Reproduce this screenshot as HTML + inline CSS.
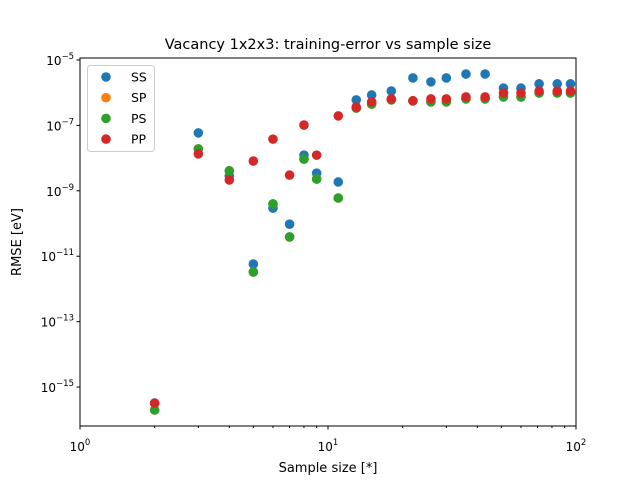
<!DOCTYPE html>
<html><head><meta charset="utf-8"><style>
body{margin:0;background:#fff;font-family:"Liberation Sans","DejaVu Sans",sans-serif;}
</style></head><body>
<svg id="chart" width="640" height="480" xmlns="http://www.w3.org/2000/svg" font-family="DejaVu Sans, Liberation Sans, sans-serif">
<rect width="640" height="480" fill="#fff"/>
<text x="328" y="49" font-size="14.5" text-anchor="middle">Vacancy 1x2x3: training-error vs sample size</text>
<g id="ticks"></g>
<g id="marks"></g>
<rect x="80" y="58" width="496" height="368" fill="none" stroke="#000" stroke-width="1"/>
<text x="328" y="472" font-size="13" text-anchor="middle">Sample size [*]</text>
<text transform="translate(21,242) rotate(-90)" font-size="13" text-anchor="middle">RMSE [eV]</text>
<g>
<rect x="87.5" y="65.5" width="67" height="86" rx="3" fill="#fff" fill-opacity="0.8" stroke="#ccc"/>
<g id="legend-items"></g>
</g>
</svg>
<script>
const sampleSizes=[2,3,4,5,6,7,8,9,11,13,15,18,22,26,30,36,43,51,60,71,84,95];
const ssExp=[-15.49,-7.23,-8.55,-11.24,-9.53,-10.02,-7.91,-8.46,-8.73,-6.22,-6.07,-5.95,-5.55,-5.67,-5.55,-5.43,-5.43,-5.86,-5.86,-5.73,-5.73,-5.73];
const psExp=[-15.70,-7.72,-8.39,-11.48,-9.40,-10.41,-8.03,-8.64,-9.22,-6.47,-6.35,-6.22,-6.25,-6.28,-6.28,-6.19,-6.19,-6.13,-6.13,-6.01,-6.01,-6.01];
const spExp=psExp.slice();
const ppExp=[-15.49,-7.87,-8.67,-8.09,-7.42,-8.52,-6.99,-7.91,-6.71,-6.44,-6.28,-6.19,-6.25,-6.19,-6.19,-6.13,-6.13,-6.01,-6.01,-5.95,-5.95,-5.95];
const seriesNames=["SS","SP","PS","PP"];
const seriesColors=["#1f77b4","#ff7f0e","#2ca02c","#d62728"];
const yTickExps=[-15,-13,-11,-9,-7,-5];
const xTickExps=[0,1,2];
const NS="http://www.w3.org/2000/svg";
const X0=80,X1=576,Y0=426,Y1=58,YMIN=-16.19,YMAX=-4.94;
function xs(v){return X0+(X1-X0)*(Math.log10(v)-0)/2;}
function ys(e){return Y0-(Y0-Y1)*(e-YMIN)/(YMAX-YMIN);}
function mk(t,a,p){const e=document.createElementNS(NS,t);for(const k in a)e.setAttribute(k,a[k]);p.appendChild(e);return e;}
const tk=document.getElementById('ticks');
yTickExps.forEach(e=>{const y=ys(e);
 mk('line',{x1:X0-3.5,x2:X0,y1:y,y2:y,stroke:'#000'},tk);
 const t=mk('text',{x:X0-6,y:y+5,'font-size':'12','text-anchor':'end'},tk);
 
 
 t.innerHTML='10<tspan dy="-6" font-size="8.5">\u2212'+(-e)+'</tspan>';
});
xTickExps.forEach(e=>{const x=X0+(X1-X0)*e/2;
 mk('line',{x1:x,x2:x,y1:Y0,y2:Y0+3.5,stroke:'#000'},tk);
 const t=mk('text',{x:x,y:Y0+25,'font-size':'12','text-anchor':'middle'},tk);
 
 
 t.innerHTML='10<tspan dy="-6" font-size="8.5">'+e+'</tspan>';
});
for(let d=1;d<=2;d++)for(let m=2;m<=9;m++){const x=xs(Math.pow(10,d-1)*m);mk('line',{x1:x,x2:x,y1:Y0,y2:Y0+2,stroke:'#000'},tk);}
const mg=document.getElementById('marks');
const all=[ssExp,spExp,psExp,ppExp];
all.forEach((arr,si)=>{arr.forEach((e,i)=>{
 const c=mk('circle',{cx:xs(sampleSizes[i]),cy:ys(e),r:4.8,fill:seriesColors[si]},mg);
 
 
});});
const lg=document.getElementById('legend-items');
seriesNames.forEach((n,i)=>{const y=77+i*20.7;
 const c=mk('circle',{cx:106,cy:y,r:4.8,fill:seriesColors[i]},lg);
 
 
 const t=mk('text',{x:131,y:y+4.5,'font-size':'12.5'},lg);
 
 
 t.textContent=n;
});
</script>
</body></html>
